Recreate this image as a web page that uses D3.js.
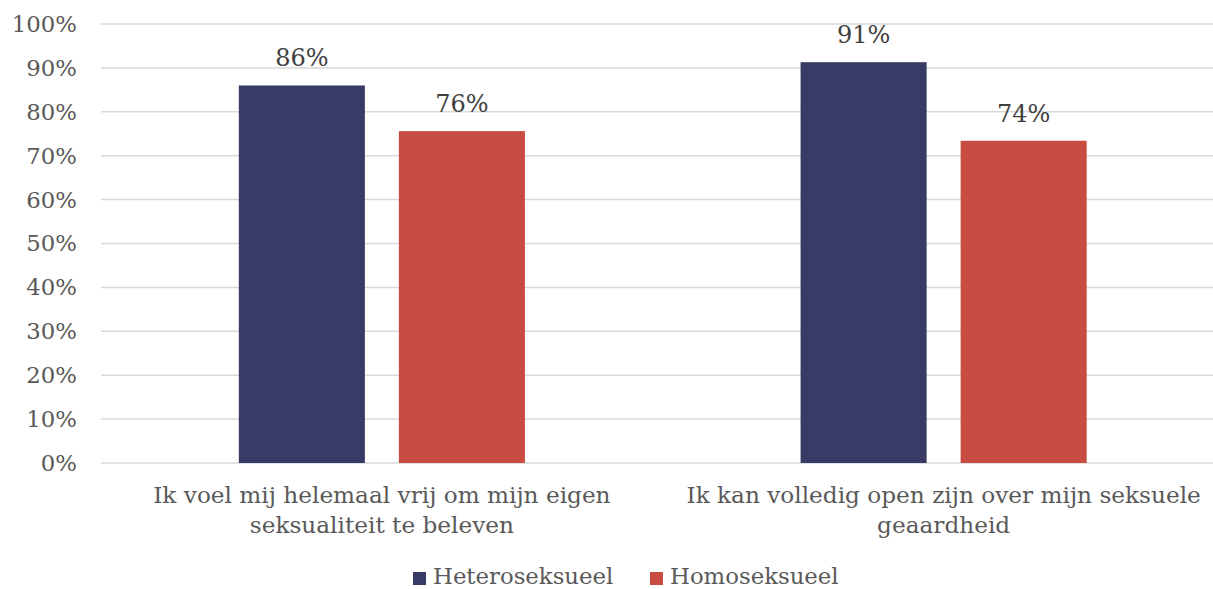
<!DOCTYPE html>
<html>
<head>
<meta charset="utf-8">
<script src="https://cdn.jsdelivr.net/npm/d3@7"></script>
<style>
  body { margin: 0; background: #fff; }
  svg { display: block; font-family: "DejaVu Serif", serif; }
</style>
</head>
<body>
<svg id="chart"></svg>
<script>
const categories = [
  ["Ik voel mij helemaal vrij om mijn eigen", "seksualiteit te beleven"],
  ["Ik kan volledig open zijn over mijn seksuele", "geaardheid"]
];
const seriesNames = ["Heteroseksueel", "Homoseksueel"];
const hetero = [0.86, 0.913];
const homo = [0.756, 0.734];
const valueLabels = [["86%", "91%"], ["76%", "74%"]];
const yTicks = [0, 0.1, 0.2, 0.3, 0.4, 0.5, 0.6, 0.7, 0.8, 0.9, 1];
const colors = ["#383b66", "#c94c43"];

const width = 1213;
const height = 589;

const svg = d3.select("#chart")
  .attr("width", width)
  .attr("height", height);

const catIdx = categories.map((d, i) => i);

const xScale = d3.scaleBand()
  .domain(catIdx)
  .range([101, 1224.5])
  .padding(0);

const xSub = d3.scaleBand()
  .domain(seriesNames)
  .range([0, xScale.bandwidth()])
  .paddingInner(0.2125)
  .paddingOuter(0.861);

const yScale = d3.scaleLinear()
  .domain([0, 1])
  .range([463, 24]);

// gridlines
svg.append("g")
  .selectAll("line")
  .data(yTicks)
  .enter().append("line")
  .attr("x1", 101)
  .attr("x2", width)
  .attr("y1", d => yScale(d))
  .attr("y2", d => yScale(d))
  .attr("stroke", "#d9d9d9")
  .attr("stroke-width", 1.5);

// y tick labels
svg.append("g")
  .selectAll("text")
  .data(yTicks)
  .enter().append("text")
  .attr("x", 77)
  .attr("y", d => yScale(d))
  .attr("dy", "0.35em")
  .attr("text-anchor", "end")
  .attr("fill", "#595959")
  .style("font-size", "22.8px")
  .text(d => Math.round(d * 100) + "%");

const series = [hetero, homo];

series.forEach((vals, s) => {
  const g = svg.append("g");
  g.selectAll("rect")
    .data(vals)
    .enter().append("rect")
    .attr("x", (d, i) => xScale(i) + xSub(seriesNames[s]))
    .attr("y", d => yScale(d))
    .attr("width", xSub.bandwidth())
    .attr("height", d => yScale(0) - yScale(d))
    .attr("fill", colors[s]);

  g.selectAll("text")
    .data(vals)
    .enter().append("text")
    .attr("x", (d, i) => xScale(i) + xSub(seriesNames[s]) + xSub.bandwidth() / 2)
    .attr("y", d => yScale(d) - 19)
    .attr("text-anchor", "middle")
    .attr("fill", "#404040")
    .style("font-size", "24px")
    .text((d, i) => valueLabels[s][i]);
});

// category labels
const catG = svg.append("g");
categories.forEach((lines, i) => {
  const t = catG.append("text")
    .attr("x", xScale(i) + xScale.bandwidth() / 2)
    .attr("y", 503)
    .attr("text-anchor", "middle")
    .attr("fill", "#595959")
    .style("font-size", "23.2px");
  lines.forEach((line, j) => {
    t.append("tspan")
      .attr("x", xScale(i) + xScale.bandwidth() / 2)
      .attr("dy", j === 0 ? 0 : 30)
      .text(line);
  });
});

// legend
const legendX = [413, 650];
const legend = svg.append("g");
seriesNames.forEach((name, i) => {
  legend.append("rect")
    .attr("x", legendX[i])
    .attr("y", 572)
    .attr("width", 13)
    .attr("height", 13)
    .attr("fill", colors[i]);
  legend.append("text")
    .attr("x", legendX[i] + 20)
    .attr("y", 584)
    .attr("fill", "#595959")
    .style("font-size", "22.8px")
    .text(name);
});
</script>
</body>
</html>
